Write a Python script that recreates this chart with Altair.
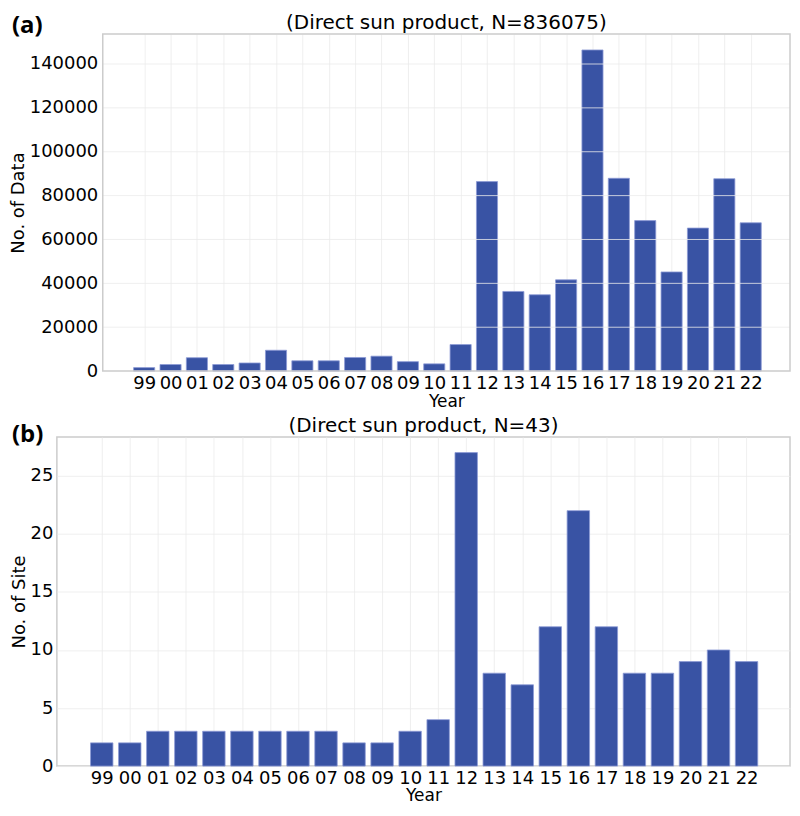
import json
import altair as alt
import pandas as pd

years = ["99", "00", "01", "02", "03", "04", "05", "06", "07", "08", "09", "10",
         "11", "12", "13", "14", "15", "16", "17", "18", "19", "20", "21", "22"]
data_counts = [1600, 3000, 6100, 3000, 3700, 9500, 4700, 4700, 6200, 6800, 4300, 3300,
               12100, 86400, 36300, 34800, 41600, 146400, 87900, 68600, 45200, 65200, 87700, 67600]
site_counts = [2, 2, 3, 3, 3, 3, 3, 3, 3, 2, 2, 3,
               4, 27, 8, 7, 12, 22, 12, 8, 8, 9, 10, 9]
data_ticks = [0, 20000, 40000, 60000, 80000, 100000, 120000, 140000]
site_ticks = [0, 5, 10, 15, 20, 25]

BAR = "#3953a4"
FRAME = "#cccccc"
GRID = "#ebebeb"
label_expr = json.dumps(years) + "[datum.value]"
W = 735          # view width of both panels
INSET = 46       # top panel frame starts this far inside its view


def text_layer(txt, font, size, weight, x, y, align, baseline):
    return alt.Chart(pd.DataFrame({"t": [txt]})).mark_text(
        font=font, fontSize=size, fontWeight=weight, align=align, baseline=baseline,
        color="black").encode(text="t:N", x=alt.value(x), y=alt.value(y))


def xaxis(title_x=None):
    kw = dict(title="Year", values=list(range(len(years))), labelExpr=label_expr,
              labelFlush=False, labelOverlap=False, labelPadding=3, grid=True,
              titleFontSize=17, titlePadding=1)
    if title_x is not None:
        kw["titleX"] = title_x
    return alt.Axis(**kw)


def bar_chart(df, xs, ys, xax, yax):
    return alt.Chart(df).transform_calculate(
        x0="datum.idx - 0.4", x1="datum.idx + 0.4"
    ).mark_bar(color=BAR, stroke="#8d9ad6", strokeWidth=0.8).encode(
        x=alt.X("x0:Q", scale=xs, axis=xax),
        x2="x1:Q",
        y=alt.Y("v:Q", scale=ys, axis=yax),
        y2=alt.datum(0),
    )


# ---------- top panel ----------
dom1 = [-1.57, 24.49]
frame_w1 = W - INSET
unit1 = frame_w1 / (dom1[1] - dom1[0])
xdom1 = [dom1[0] - INSET / unit1, dom1[1]]
ymax1 = 153700
H1 = 338

df1 = pd.DataFrame({"year": years, "idx": list(range(len(years))), "v": data_counts})
xs1 = alt.Scale(domain=xdom1, nice=False, zero=False)
ys1 = alt.Scale(domain=[0, ymax1], nice=False)
xax1 = xaxis(INSET + frame_w1 / 2)
yax1 = alt.Axis(title="No. of Data", values=data_ticks, format="d", labelPadding=5,
                titlePadding=2, titleFontSize=18, grid=False, offset=-INSET)

b1 = bar_chart(df1, xs1, ys1, xax1, yax1)
grid_df = pd.DataFrame({"g": data_ticks[1:], "xa": dom1[0], "xb": dom1[1]})
grid1 = alt.Chart(grid_df).mark_rule(color=GRID, strokeWidth=0.8).encode(
    x=alt.X("xa:Q", scale=xs1, axis=xax1), x2="xb:Q",
    y=alt.Y("g:Q", scale=ys1, axis=yax1))
frame_df = pd.DataFrame({"xa": [dom1[0]], "xb": [dom1[1]], "ya": [0], "yb": [ymax1]})
frame1 = alt.Chart(frame_df).mark_rect(filled=False, stroke=FRAME, strokeWidth=1.5).encode(
    x=alt.X("xa:Q", scale=xs1, axis=xax1), x2="xb:Q",
    y=alt.Y("ya:Q", scale=ys1, axis=yax1), y2="yb:Q")
title1 = text_layer("(Direct sun product, N=836075)", "DejaVu Sans", 20, "normal",
                    INSET + frame_w1 / 2, -5, "center", "alphabetic")
tag1 = text_layer("(a)", "Open Sans", 24, "bold", -45, -8, "left", "middle")
top = alt.layer(b1, grid1, frame1, title1, tag1).properties(
    width=W, height=H1, view=alt.ViewBackground(stroke="transparent"))

# ---------- bottom panel ----------
xdom2 = [-1.6, 24.55]
ymax2 = 28.35
H2 = 330
df2 = pd.DataFrame({"year": years, "idx": list(range(len(years))), "v": site_counts})
b2 = bar_chart(df2, alt.Scale(domain=xdom2, nice=False, zero=False),
               alt.Scale(domain=[0, ymax2], nice=False), xaxis(),
               alt.Axis(title="No. of Site", values=site_ticks, format="d", labelPadding=4,
                        titlePadding=2, titleFontSize=18, grid=True))
title2 = text_layer("(Direct sun product, N=43)", "DejaVu Sans", 20, "normal",
                    W / 2, -5, "center", "alphabetic")
tag2 = text_layer("(b)", "Open Sans", 24, "bold", -45, -2, "left", "middle")
bottom = alt.layer(b2, title2, tag2).properties(width=W, height=H2)

chart = alt.vconcat(top, bottom, spacing=5).properties(
    padding={"left": 0, "top": 3, "right": 0, "bottom": 0}
).configure_view(stroke=FRAME, strokeWidth=1.5).configure_axis(
    gridColor=GRID, gridWidth=0.8, domain=False, ticks=False,
    labelOverlap=False, labelFlush=False,
    labelFont="DejaVu Sans", labelFontSize=18, labelColor="black",
    titleFont="DejaVu Sans", titleFontWeight="normal", titleColor="black",
)

chart.save("out.html", embed_options={"renderer": "svg", "actions": False})
